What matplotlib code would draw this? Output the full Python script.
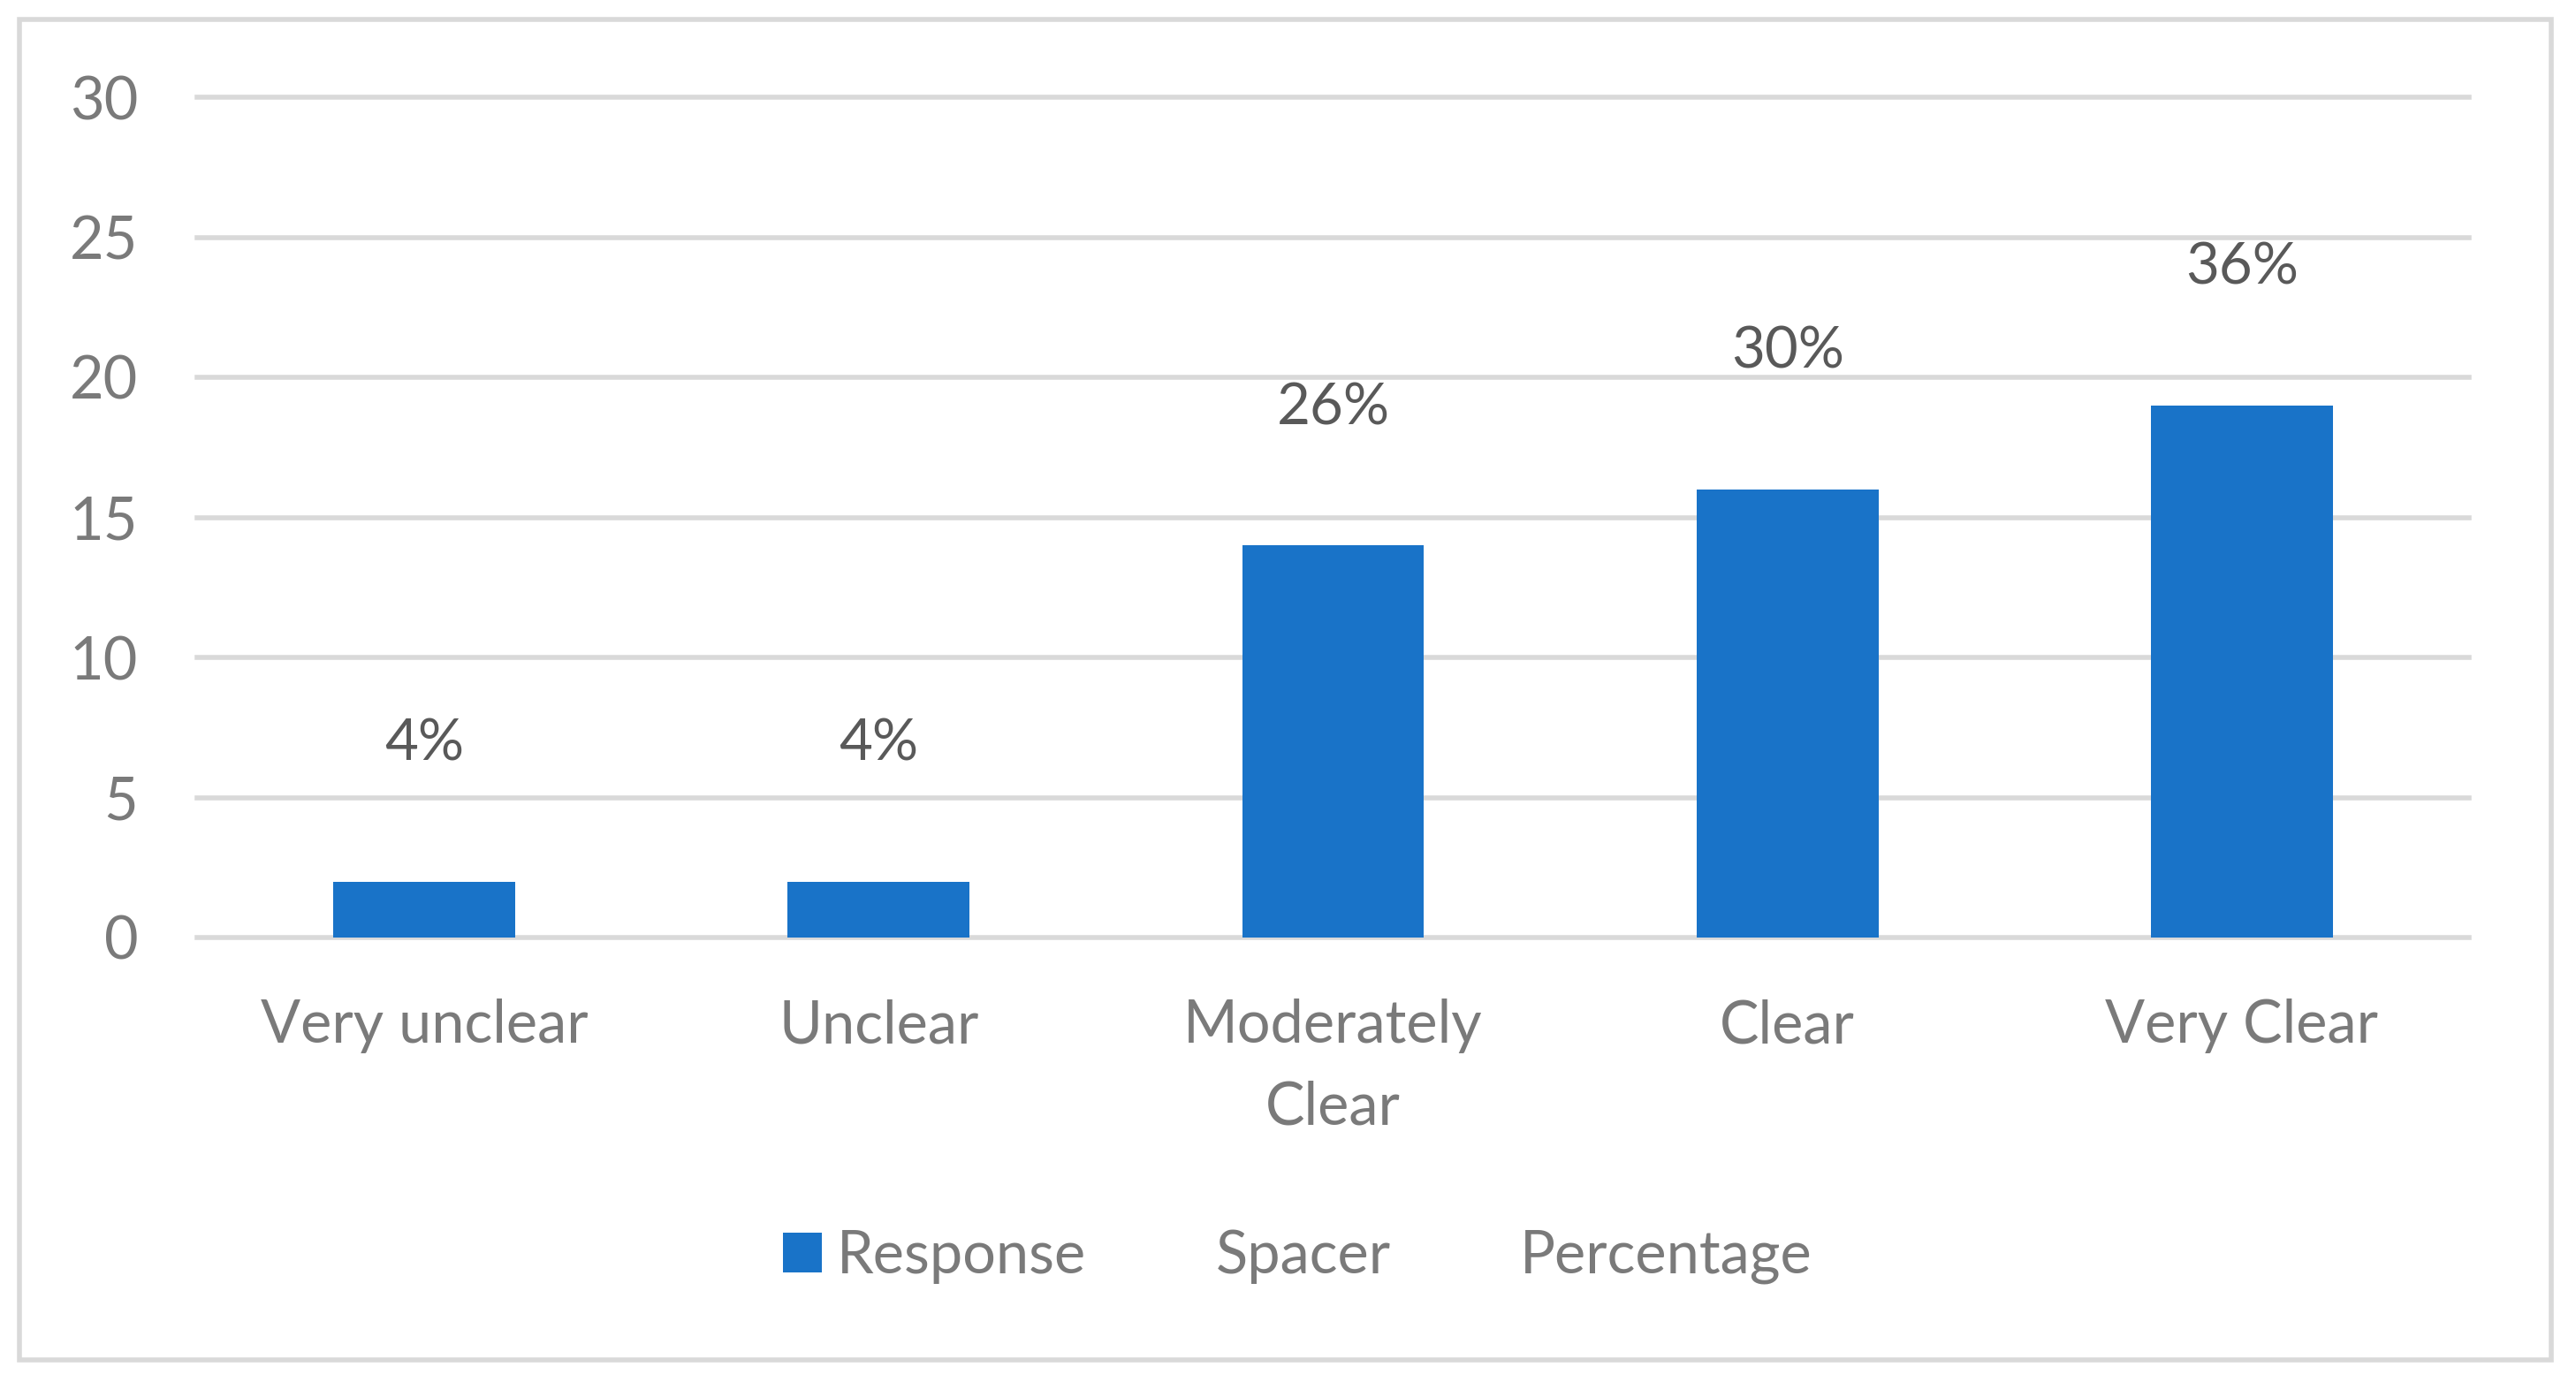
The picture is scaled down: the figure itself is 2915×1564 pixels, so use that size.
import matplotlib
matplotlib.use('Agg')
import matplotlib.pyplot as plt
from matplotlib.patches import Patch, Rectangle
import numpy as np

categories = ['Very unclear', 'Unclear', 'Moderately\nClear', 'Clear', 'Very Clear']
response = [2, 2, 14, 16, 19]
spacer = [5, 5, 5, 5, 5]
percentage = ['4%', '4%', '26%', '30%', '36%']
y_ticks = [0, 5, 10, 15, 20, 25, 30]

bar_color = '#1973c8'
grid_color = '#d9d9d9'
axis_text = '#7a7a7a'
label_text = '#595959'

plt.rcParams['font.family'] = ['Lato', 'DejaVu Sans']

W, H = 2915, 1564
fig = plt.figure(figsize=(W / 100, H / 100), dpi=100)

# outer chart border
fig.add_artist(Rectangle((22 / W, 1 - 1539 / H), (2887 - 22) / W, (1539 - 22) / H,
                         transform=fig.transFigure, fill=False,
                         edgecolor=grid_color, linewidth=4))

ax = fig.add_axes([223 / W, 1 - 1061 / H, (2794 - 223) / W, (1061 - 110) / H])
x = np.arange(len(categories))
ax.bar(x, response, width=0.4, color=bar_color, zorder=3)

# percentage labels sit on top of an invisible spacer
for xi, r, s, p in zip(x, response, spacer, percentage):
    ax.text(xi, r + s - 0.1, p, ha='center', va='center', fontsize=47, color=label_text)

ax.set_xlim(-0.5, 4.5)
ax.set_ylim(0, 30)
ax.set_yticks(y_ticks)
ax.set_xticks(x)
ax.set_xticklabels(categories, linespacing=1.6)
ax.tick_params(axis='both', length=0, labelsize=48, labelcolor=axis_text)
ax.tick_params(axis='y', pad=48)
ax.tick_params(axis='x', pad=50)
ax.yaxis.grid(True, color=grid_color, linewidth=4, zorder=0)
for gl in ax.yaxis.get_gridlines():
    gl.set_clip_on(False)
for sp in ax.spines.values():
    sp.set_visible(False)

handles = [Patch(facecolor=bar_color, edgecolor='none'),
           Patch(facecolor='none', edgecolor='none'),
           Patch(facecolor='none', edgecolor='none')]
fig.legend(handles, ['Response', 'Spacer', 'Percentage'], loc='center',
           bbox_to_anchor=(790 * 1.859 / W, 1 - 1422 / H), ncol=3, frameon=False,
           fontsize=48, labelcolor=axis_text, handlelength=0.65, handleheight=0.65,
           handletextpad=0.25, columnspacing=1.3)

fig.savefig('out.png', dpi=100, facecolor='white')
